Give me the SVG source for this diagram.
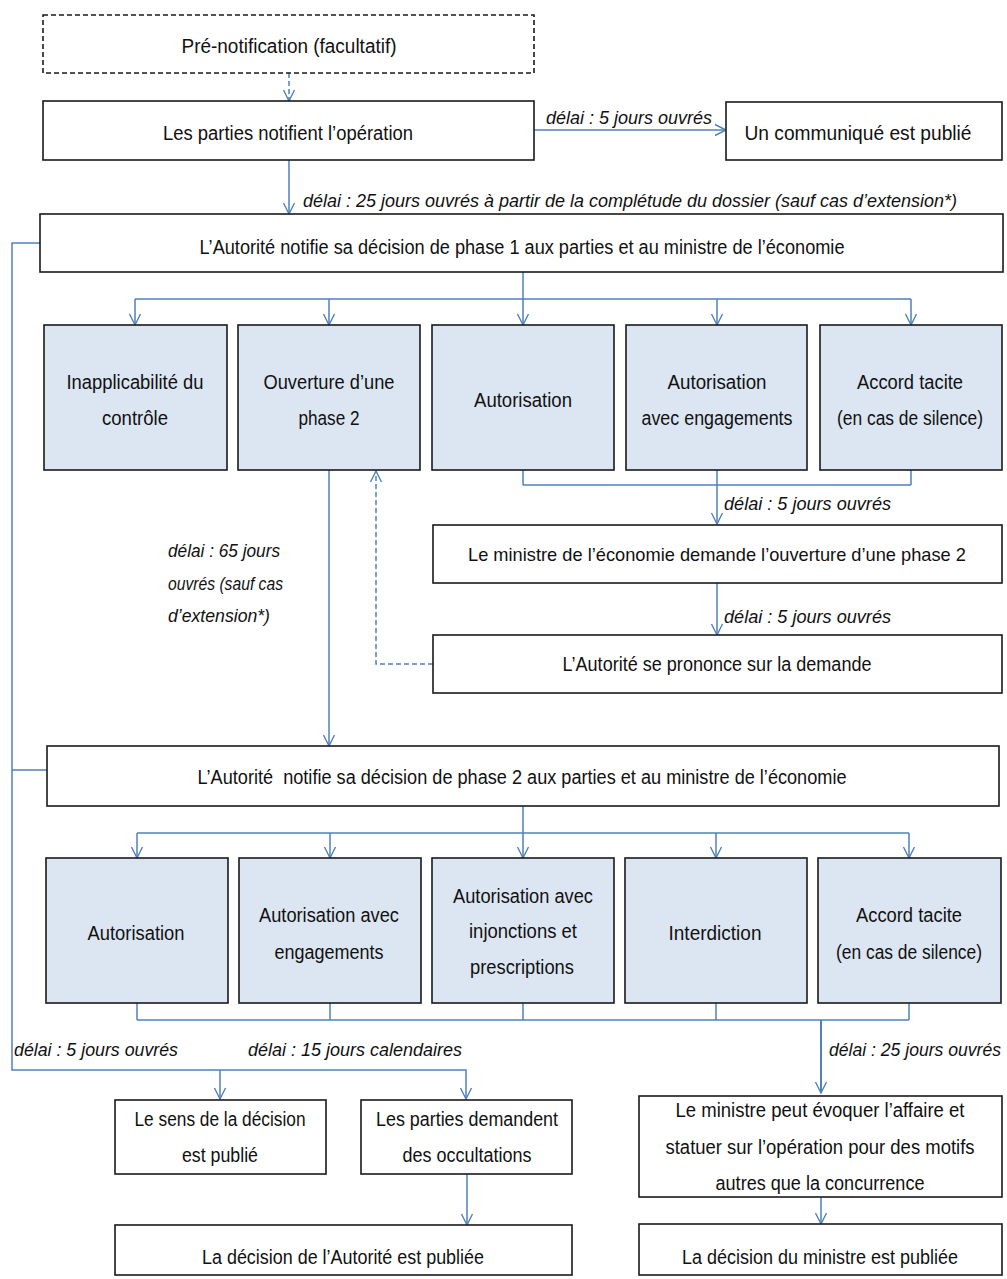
<svg xmlns="http://www.w3.org/2000/svg" width="1007" height="1279" viewBox="0 0 1007 1279">
<style>
.box{fill:#ffffff;stroke:#1a1a1a;stroke-width:1.6}
.opt{fill:#dce6f2;stroke:#1a1a1a;stroke-width:1.6}
.dash{stroke-dasharray:5,3}
.t{font-family:"Liberation Sans",Arial,sans-serif;font-size:20px;fill:#111;text-anchor:middle}
.l{font-family:"Liberation Sans",Arial,sans-serif;font-size:18px;font-style:italic;fill:#111}
.c{fill:none;stroke:#4f81bd;stroke-width:1.5}
.cd{fill:none;stroke:#4f81bd;stroke-width:1.5;stroke-dasharray:5,3}
</style>
<defs>
<marker id="ah" viewBox="-12 -7 14 14" refX="0" refY="0" markerWidth="14" markerHeight="14" markerUnits="userSpaceOnUse" orient="auto">
<path d="M-11,-5.5 L0,0 L-11,5.5" fill="none" stroke="#4f81bd" stroke-width="1.4"/>
</marker>
</defs>
<rect width="1007" height="1279" fill="#ffffff"/>
<g id="connectors">
<path class="cd" d="M289,73 V101" marker-end="url(#ah)"/>
<path class="c" d="M534,130 H726" marker-end="url(#ah)"/>
<path class="c" d="M289,160 V214" marker-end="url(#ah)"/>
<path class="c" d="M40,243 H12 V1070 H466 V1099" marker-end="url(#ah)"/>
<path class="c" d="M220,1070 V1099" marker-end="url(#ah)"/>
<path class="c" d="M47,770 H12"/>
<path class="c" d="M523,272 V299 M135,299 H911"/>
<path class="c" d="M135,299 V325" marker-end="url(#ah)"/>
<path class="c" d="M329,299 V325" marker-end="url(#ah)"/>
<path class="c" d="M523,299 V325" marker-end="url(#ah)"/>
<path class="c" d="M717,299 V325" marker-end="url(#ah)"/>
<path class="c" d="M911,299 V325" marker-end="url(#ah)"/>
<path class="c" d="M523,470 V485 M911,470 V485 M523,485 H911 M717,470 V485"/>
<path class="c" d="M717,485 V524" marker-end="url(#ah)"/>
<path class="c" d="M717,583 V635" marker-end="url(#ah)"/>
<path class="cd" d="M433,664 H376 V471" marker-end="url(#ah)"/>
<path class="c" d="M329,470 V746" marker-end="url(#ah)"/>
<path class="c" d="M523,806 V833 M137,833 H909"/>
<path class="c" d="M137,833 V858" marker-end="url(#ah)"/>
<path class="c" d="M330,833 V858" marker-end="url(#ah)"/>
<path class="c" d="M523,833 V858" marker-end="url(#ah)"/>
<path class="c" d="M716,833 V858" marker-end="url(#ah)"/>
<path class="c" d="M909,833 V858" marker-end="url(#ah)"/>
<path class="c" d="M137,1003 V1020 M330,1003 V1020 M523,1003 V1020 M716,1003 V1020 M909,1003 V1020 M137,1020 H909"/>
<path class="c" d="M821,1020 V1093" marker-end="url(#ah)" style="stroke-width:2"/>
<path class="c" d="M467,1174 V1225" marker-end="url(#ah)"/>
<path class="c" d="M821,1197 V1224" marker-end="url(#ah)"/>
</g>
<g id="labels">
<text class="l" x="546" y="124" textLength="166" lengthAdjust="spacingAndGlyphs">délai : 5 jours ouvrés</text>
<text class="l" x="303" y="207" textLength="654" lengthAdjust="spacingAndGlyphs">délai : 25 jours ouvrés à partir de la complétude du dossier (sauf cas d’extension*)</text>
<text class="l" x="724" y="510" textLength="167" lengthAdjust="spacingAndGlyphs">délai : 5 jours ouvrés</text>
<text class="l" x="724" y="623" textLength="167" lengthAdjust="spacingAndGlyphs">délai : 5 jours ouvrés</text>
<text class="l" x="168" y="557" textLength="112" lengthAdjust="spacingAndGlyphs">délai : 65 jours</text>
<text class="l" x="168" y="590" textLength="115" lengthAdjust="spacingAndGlyphs">ouvrés (sauf cas</text>
<text class="l" x="168" y="622" textLength="102" lengthAdjust="spacingAndGlyphs">d’extension*)</text>
<text class="l" x="14" y="1056" textLength="164" lengthAdjust="spacingAndGlyphs">délai : 5 jours ouvrés</text>
<text class="l" x="248" y="1056" textLength="214" lengthAdjust="spacingAndGlyphs">délai : 15 jours calendaires</text>
<text class="l" x="829" y="1056" textLength="172" lengthAdjust="spacingAndGlyphs">délai : 25 jours ouvrés</text>
</g>
<g id="prenotification"><rect class="box dash" x="43" y="15" width="491" height="58"/><text class="t" x="289" y="53" textLength="215" lengthAdjust="spacingAndGlyphs">Pré-notification (facultatif)</text></g>
<g id="notification"><rect class="box" x="43" y="101" width="491" height="59"/><text class="t" x="288" y="140" textLength="250" lengthAdjust="spacingAndGlyphs">Les parties notifient l’opération</text></g>
<g id="communique"><rect class="box" x="726" y="102" width="276" height="58"/><text class="t" x="858" y="140" textLength="227" lengthAdjust="spacingAndGlyphs">Un communiqué est publié</text></g>
<g id="phase1"><rect class="box" x="40" y="214" width="963" height="58"/><text class="t" x="522" y="254" textLength="645" lengthAdjust="spacingAndGlyphs">L’Autorité notifie sa décision de phase 1 aux parties et au ministre de l’économie</text></g>
<g id="p1-inapplicabilite"><rect class="opt" x="44" y="325" width="183" height="145"/><text class="t" x="135" y="389" textLength="137" lengthAdjust="spacingAndGlyphs">Inapplicabilité du</text><text class="t" x="135" y="425" textLength="66" lengthAdjust="spacingAndGlyphs">contrôle</text></g>
<g id="p1-ouverture"><rect class="opt" x="238" y="325" width="182" height="145"/><text class="t" x="329" y="389" textLength="131" lengthAdjust="spacingAndGlyphs">Ouverture d’une</text><text class="t" x="329" y="425" textLength="61" lengthAdjust="spacingAndGlyphs">phase 2</text></g>
<g id="p1-autorisation"><rect class="opt" x="432" y="325" width="182" height="145"/><text class="t" x="523" y="407" textLength="98" lengthAdjust="spacingAndGlyphs">Autorisation</text></g>
<g id="p1-engagements"><rect class="opt" x="626" y="325" width="181" height="145"/><text class="t" x="717" y="389" textLength="99" lengthAdjust="spacingAndGlyphs">Autorisation</text><text class="t" x="717" y="425" textLength="151" lengthAdjust="spacingAndGlyphs">avec engagements</text></g>
<g id="p1-tacite"><rect class="opt" x="820" y="325" width="182" height="145"/><text class="t" x="910" y="389" textLength="106" lengthAdjust="spacingAndGlyphs">Accord tacite</text><text class="t" x="910" y="425" textLength="146" lengthAdjust="spacingAndGlyphs">(en cas de silence)</text></g>
<g id="ministre-demande"><rect class="box" x="433" y="525" width="569" height="58"/><text class="t" x="717" y="561" style="font-size:19px" textLength="498" lengthAdjust="spacingAndGlyphs">Le ministre de l’économie demande l’ouverture d’une phase 2</text></g>
<g id="autorite-prononce"><rect class="box" x="433" y="635" width="569" height="58"/><text class="t" x="717" y="671" textLength="309" lengthAdjust="spacingAndGlyphs">L’Autorité se prononce sur la demande</text></g>
<g id="phase2"><rect class="box" x="47" y="746" width="952" height="60"/><text class="t" x="522" y="784" xml:space="preserve" textLength="649" lengthAdjust="spacingAndGlyphs">L’Autorité  notifie sa décision de phase 2 aux parties et au ministre de l’économie</text></g>
<g id="p2-autorisation"><rect class="opt" x="46" y="858" width="182" height="145"/><text class="t" x="136" y="940" textLength="97" lengthAdjust="spacingAndGlyphs">Autorisation</text></g>
<g id="p2-engagements"><rect class="opt" x="239" y="858" width="182" height="145"/><text class="t" x="329" y="922" textLength="140" lengthAdjust="spacingAndGlyphs">Autorisation avec</text><text class="t" x="329" y="959" textLength="109" lengthAdjust="spacingAndGlyphs">engagements</text></g>
<g id="p2-injonctions"><rect class="opt" x="432" y="858" width="182" height="145"/><text class="t" x="523" y="903" textLength="140" lengthAdjust="spacingAndGlyphs">Autorisation avec</text><text class="t" x="523" y="938" textLength="108" lengthAdjust="spacingAndGlyphs">injonctions et</text><text class="t" x="522" y="974" textLength="104" lengthAdjust="spacingAndGlyphs">prescriptions</text></g>
<g id="p2-interdiction"><rect class="opt" x="625" y="858" width="182" height="145"/><text class="t" x="715" y="940" textLength="93" lengthAdjust="spacingAndGlyphs">Interdiction</text></g>
<g id="p2-tacite"><rect class="opt" x="818" y="858" width="183" height="145"/><text class="t" x="909" y="922" textLength="106" lengthAdjust="spacingAndGlyphs">Accord tacite</text><text class="t" x="909" y="959" textLength="146" lengthAdjust="spacingAndGlyphs">(en cas de silence)</text></g>
<g id="sens-decision"><rect class="box" x="115" y="1100" width="211" height="74"/><text class="t" x="220" y="1126" textLength="171" lengthAdjust="spacingAndGlyphs">Le sens de la décision</text><text class="t" x="220" y="1162" textLength="76" lengthAdjust="spacingAndGlyphs">est publié</text></g>
<g id="occultations"><rect class="box" x="361" y="1100" width="211" height="74"/><text class="t" x="467" y="1126" textLength="182" lengthAdjust="spacingAndGlyphs">Les parties demandent</text><text class="t" x="467" y="1162" textLength="129" lengthAdjust="spacingAndGlyphs">des occultations</text></g>
<g id="ministre-evoque"><rect class="box" x="639" y="1096" width="363" height="101"/><text class="t" x="820" y="1117" textLength="289" lengthAdjust="spacingAndGlyphs">Le ministre peut évoquer l’affaire et</text><text class="t" x="820" y="1154" textLength="309" lengthAdjust="spacingAndGlyphs">statuer sur l’opération pour des motifs</text><text class="t" x="820" y="1190" textLength="209" lengthAdjust="spacingAndGlyphs">autres que la concurrence</text></g>
<g id="decision-autorite"><rect class="box" x="115" y="1225" width="457" height="50"/><text class="t" x="343" y="1264" textLength="282" lengthAdjust="spacingAndGlyphs">La décision de l’Autorité est publiée</text></g>
<g id="decision-ministre"><rect class="box" x="639" y="1224" width="363" height="51"/><text class="t" x="820" y="1264" textLength="276" lengthAdjust="spacingAndGlyphs">La décision du ministre est publiée</text></g>
</svg>
